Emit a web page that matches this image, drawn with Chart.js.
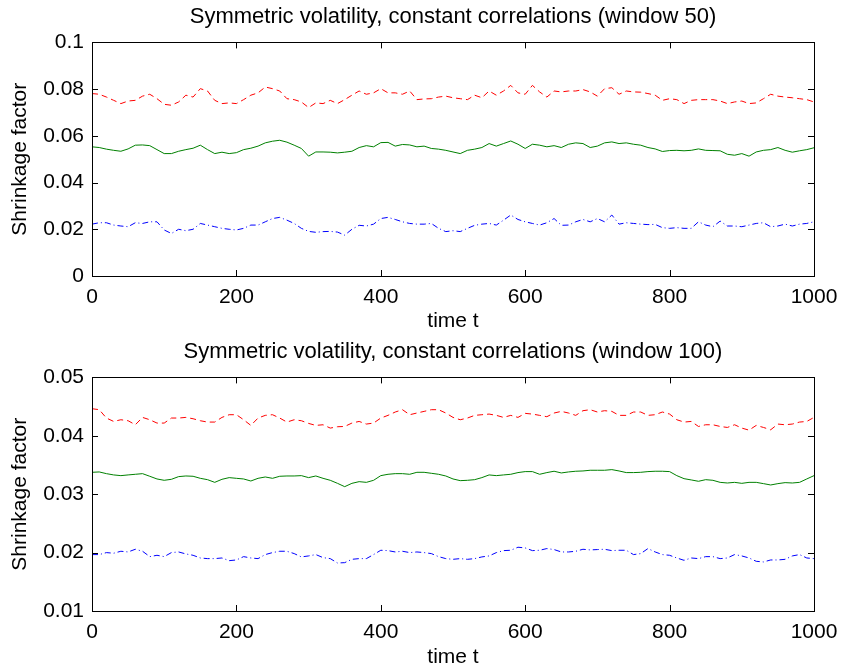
<!DOCTYPE html>
<html>
<head>
<meta charset="utf-8">
<script src="https://cdn.jsdelivr.net/npm/chart.js@4/dist/chart.umd.min.js"></script>
<style>
  body { margin: 0; background: #fff; }
  .wrap { position: absolute; left: 0; width: 843px; }
</style>
</head>
<body>
<div class="wrap" style="top:0;height:335px"><canvas id="topChart" width="843" height="335"></canvas></div>
<div class="wrap" style="top:335px;height:336px"><canvas id="bottomChart" width="843" height="336"></canvas></div>
<script>
// sample times (read every 10 steps)
const times = [0,10,20,30,40,50,60,70,80,90,100,110,120,130,140,150,160,170,180,190,200,210,220,230,240,
  250,260,270,280,290,300,310,320,330,340,350,360,370,380,390,400,410,420,430,440,450,460,470,480,490,
  500,510,520,530,540,550,560,570,580,590,600,610,620,630,640,650,660,670,680,690,700,710,720,730,740,
  750,760,770,780,790,800,810,820,830,840,850,860,870,880,890,900,910,920,930,940,950,960,970,980,990,1000];

const xTicks = [0, 200, 400, 600, 800, 1000];
const yTicksTop = [0, 0.02, 0.04, 0.06, 0.08, 0.1];
const yTicksBottom = [0.01, 0.02, 0.03, 0.04, 0.05];

// window 50
const top_red = [0.0781,0.0778,0.0766,0.0752,0.0738,0.0749,0.0752,0.0770,0.0778,0.0759,0.0735,0.0731,0.0745,0.0774,0.0766,0.0802,0.0792,0.0752,0.0738,0.0741,0.0738,0.0755,0.0774,0.0784,0.0809,
  0.0802,0.0792,0.0759,0.0755,0.0745,0.0721,0.0741,0.0738,0.0752,0.0738,0.0755,0.0774,0.0792,0.0778,0.0784,0.0802,0.0784,0.0784,0.0778,0.0792,0.0755,0.0758,0.0759,0.0766,0.0770,
  0.0763,0.0759,0.0755,0.0774,0.0763,0.0792,0.0774,0.0792,0.0816,0.0784,0.0778,0.0816,0.0788,0.0766,0.0792,0.0788,0.0792,0.0792,0.0798,0.0788,0.0770,0.0802,0.0806,0.0778,0.0792,
  0.0788,0.0787,0.0781,0.0774,0.0752,0.0759,0.0755,0.0738,0.0752,0.0755,0.0755,0.0755,0.0749,0.0738,0.0745,0.0749,0.0738,0.0741,0.0759,0.0778,0.0770,0.0766,0.0763,0.0759,0.0755,0.0745];
const top_green = [0.0553,0.0550,0.0543,0.0538,0.0534,0.0544,0.0560,0.0561,0.0558,0.0541,0.0524,0.0524,0.0534,0.0541,0.0547,0.0560,0.0541,0.0524,0.0530,0.0524,0.0528,0.0541,0.0547,0.0556,0.0570,
  0.0577,0.0581,0.0573,0.0560,0.0546,0.0513,0.0531,0.0531,0.0530,0.0527,0.0530,0.0534,0.0550,0.0558,0.0553,0.0571,0.0572,0.0556,0.0563,0.0561,0.0553,0.0556,0.0546,0.0543,0.0538,
  0.0531,0.0524,0.0538,0.0543,0.0550,0.0567,0.0556,0.0567,0.0578,0.0564,0.0546,0.0564,0.0560,0.0553,0.0558,0.0550,0.0564,0.0570,0.0567,0.0550,0.0556,0.0570,0.0574,0.0567,0.0570,
  0.0564,0.0560,0.0550,0.0544,0.0533,0.0537,0.0538,0.0536,0.0538,0.0544,0.0538,0.0537,0.0536,0.0521,0.0517,0.0524,0.0513,0.0531,0.0538,0.0541,0.0550,0.0538,0.0530,0.0536,0.0541,0.0549];
const top_blue = [0.0222,0.0228,0.0228,0.0218,0.0214,0.0211,0.0228,0.0225,0.0232,0.0232,0.0197,0.0182,0.0200,0.0194,0.0200,0.0225,0.0218,0.0211,0.0204,0.0200,0.0197,0.0204,0.0218,0.0218,0.0232,
  0.0246,0.0251,0.0239,0.0225,0.0204,0.0191,0.0187,0.0190,0.0191,0.0188,0.0175,0.0200,0.0217,0.0214,0.0222,0.0246,0.0251,0.0242,0.0232,0.0225,0.0222,0.0222,0.0225,0.0204,0.0190,
  0.0194,0.0190,0.0204,0.0217,0.0222,0.0225,0.0218,0.0239,0.0261,0.0242,0.0232,0.0225,0.0218,0.0228,0.0246,0.0217,0.0218,0.0232,0.0242,0.0232,0.0246,0.0232,0.0261,0.0222,0.0228,
  0.0225,0.0222,0.0220,0.0221,0.0207,0.0204,0.0207,0.0204,0.0204,0.0232,0.0218,0.0211,0.0235,0.0214,0.0214,0.0211,0.0218,0.0225,0.0228,0.0211,0.0214,0.0222,0.0214,0.0222,0.0225,0.0232];

// window 100
const bot_red = [0.04464,0.04447,0.04304,0.04246,0.04275,0.04258,0.04189,0.04315,0.04275,0.04218,0.04218,0.04304,0.04304,0.04315,0.04292,0.04258,0.04235,0.04235,0.04315,0.04361,0.04361,0.04275,0.04178,0.04304,0.04350,
  0.04361,0.04304,0.04235,0.04275,0.04258,0.04212,0.04178,0.04189,0.04132,0.04155,0.04160,0.04218,0.04246,0.04201,0.04218,0.04304,0.04350,0.04407,0.04447,0.04361,0.04390,0.04418,0.04447,0.04447,0.04390,
  0.04315,0.04275,0.04304,0.04350,0.04361,0.04372,0.04350,0.04315,0.04350,0.04315,0.04384,0.04372,0.04350,0.04327,0.04390,0.04418,0.04390,0.04350,0.04430,0.04447,0.04407,0.04430,0.04418,0.04350,0.04350,
  0.04407,0.04407,0.04350,0.04361,0.04407,0.04372,0.04275,0.04235,0.04246,0.04160,0.04189,0.04189,0.04160,0.04143,0.04189,0.04132,0.04097,0.04178,0.04143,0.04103,0.04201,0.04189,0.04201,0.04235,0.04246,0.04315];
const bot_green = [0.03375,0.03381,0.03352,0.03330,0.03318,0.03330,0.03341,0.03352,0.03307,0.03261,0.03238,0.03255,0.03301,0.03312,0.03307,0.03272,0.03249,0.03203,0.03255,0.03284,0.03272,0.03261,0.03226,0.03272,0.03295,
  0.03272,0.03307,0.03312,0.03312,0.03318,0.03284,0.03312,0.03272,0.03238,0.03186,0.03129,0.03186,0.03215,0.03203,0.03238,0.03318,0.03341,0.03352,0.03352,0.03341,0.03375,0.03375,0.03358,0.03341,0.03312,
  0.03261,0.03232,0.03238,0.03249,0.03284,0.03330,0.03318,0.03330,0.03341,0.03370,0.03387,0.03387,0.03341,0.03370,0.03393,0.03364,0.03381,0.03393,0.03398,0.03410,0.03410,0.03410,0.03421,0.03398,0.03370,
  0.03370,0.03375,0.03387,0.03393,0.03393,0.03387,0.03318,0.03266,0.03244,0.03221,0.03249,0.03238,0.03203,0.03192,0.03203,0.03186,0.03203,0.03203,0.03181,0.03158,0.03181,0.03198,0.03192,0.03203,0.03261,0.03318];
const bot_blue = [0.01966,0.01966,0.02000,0.01989,0.02023,0.02011,0.02057,0.02023,0.01931,0.01954,0.01931,0.02000,0.02011,0.01977,0.01954,0.01908,0.01897,0.01897,0.01908,0.01862,0.01874,0.01931,0.01908,0.01897,0.01966,
  0.02000,0.02023,0.02023,0.01983,0.01926,0.01943,0.01966,0.01914,0.01897,0.01822,0.01828,0.01885,0.01897,0.01897,0.01966,0.02040,0.02034,0.02011,0.02023,0.02000,0.02011,0.02000,0.01983,0.01931,0.01897,
  0.01885,0.01897,0.01885,0.01897,0.01926,0.01943,0.02000,0.02034,0.02040,0.02092,0.02080,0.02034,0.02040,0.02069,0.02052,0.02011,0.02011,0.02023,0.02057,0.02046,0.02052,0.02057,0.02034,0.02040,0.02040,
  0.01966,0.01983,0.02069,0.02011,0.01966,0.01954,0.01908,0.01868,0.01908,0.01897,0.01931,0.01931,0.01897,0.01908,0.01966,0.01943,0.01908,0.01851,0.01840,0.01874,0.01874,0.01885,0.01943,0.01966,0.01908,0.01897];

const FONT = "'Liberation Sans', Arial, Helvetica, sans-serif";
Chart.defaults.color = '#000';
Chart.defaults.font.family = FONT;

// box around the axes with ticks pointing inward (matlab style)
const boxTicks = {
  id: 'boxTicks',
  afterDatasetsDraw(chart) {
    const { ctx, chartArea: a, scales: { x, y } } = chart;
    const len = 6;
    ctx.save();
    ctx.strokeStyle = '#000';
    ctx.lineWidth = 1;
    ctx.beginPath();
    x.ticks.forEach(t => {
      const px = Math.round(x.getPixelForValue(t.value)) + 0.5;
      ctx.moveTo(px, a.bottom); ctx.lineTo(px, a.bottom - len);
      ctx.moveTo(px, a.top); ctx.lineTo(px, a.top + len);
    });
    y.ticks.forEach(t => {
      const py = Math.round(y.getPixelForValue(t.value)) + 0.5;
      ctx.moveTo(a.left, py); ctx.lineTo(a.left + len, py);
      ctx.moveTo(a.right, py); ctx.lineTo(a.right - len, py);
    });
    ctx.stroke();
    ctx.strokeRect(Math.round(a.left) + 0.5, Math.round(a.top) + 0.5,
      Math.round(a.right) - Math.round(a.left), Math.round(a.bottom) - Math.round(a.top));
    ctx.restore();
  }
};

function pts(vals) {
  return times.map((t, i) => ({ x: t, y: vals[i] }));
}

function makeChart(id, title, red, green, blue, yTicks, xHeight) {
  const ctx = document.getElementById(id).getContext('2d');
  return new Chart(ctx, {
    type: 'line',
    data: {
      datasets: [
        { data: pts(red), borderColor: '#ff0000', borderWidth: 1, borderDash: [6, 4] },
        { data: pts(green), borderColor: '#008000', borderWidth: 1 },
        { data: pts(blue), borderColor: '#0000ff', borderWidth: 1, borderDash: [6, 3, 1, 3] }
      ]
    },
    plugins: [boxTicks],
    options: {
      responsive: false,
      animation: false,
      layout: { padding: { left: 0, right: 29, top: 0, bottom: 0 } },
      elements: { point: { radius: 0 }, line: { tension: 0 } },
      plugins: {
        legend: { display: false },
        tooltip: { enabled: false },
        title: {
          display: true, text: title, color: '#000', fullSize: false,
          font: { size: 22, weight: 'normal' },
          padding: { top: 4, bottom: 12 }
        }
      },
      scales: {
        x: {
          type: 'linear', min: 0, max: 1000,
          grid: { display: false, drawTicks: false },
          border: { display: false },
          afterBuildTicks: s => { s.ticks = xTicks.map(v => ({ value: v })); },
          afterFit: s => { s.height = xHeight; s.paddingLeft = 0; s.paddingRight = 0; },
          ticks: { padding: 9, font: { size: 21 }, maxRotation: 0, callback: v => String(v) },
          title: { display: true, text: 'time t', font: { size: 21 }, padding: { top: 0, bottom: 1 } }
        },
        y: {
          min: yTicks[0], max: yTicks[yTicks.length - 1],
          grid: { display: false, drawTicks: false },
          border: { display: false },
          afterBuildTicks: s => { s.ticks = yTicks.map(v => ({ value: v })); },
          afterFit: s => { s.width = 92; },
          ticks: { padding: 8, font: { size: 21 }, callback: v => String(+v.toFixed(2)) },
          title: { display: true, text: 'Shrinkage factor', font: { size: 21 }, padding: { top: 8, bottom: 0 } }
        }
      }
    }
  });
}

makeChart('topChart', 'Symmetric volatility, constant correlations (window 50)',
  top_red, top_green, top_blue, yTicksTop, 59);
makeChart('bottomChart', 'Symmetric volatility, constant correlations (window 100)',
  bot_red, bot_green, bot_blue, yTicksBottom, 60);
</script>
</body>
</html>
